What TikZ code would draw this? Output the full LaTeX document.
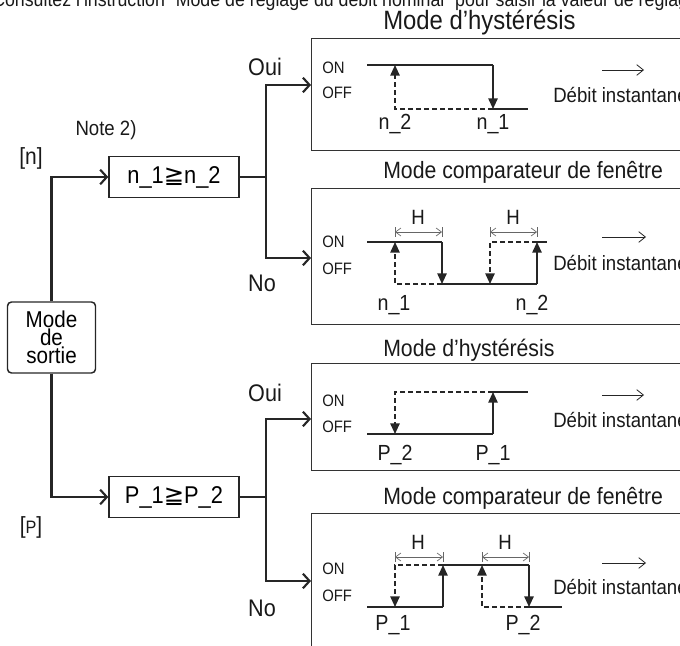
\documentclass[tikz,border=0pt]{standalone}
\usepackage{fontspec}
\setmainfont[FakeStretch=0.9]{Liberation Sans}
\newfontfamily\symfont{DejaVu Sans}
\usetikzlibrary{arrows.meta}
\newcommand{\fs}[1]{\fontsize{#1pt}{#1pt}\selectfont}
\tikzset{
  panel/.style={draw=black!80, line width=1.1pt},
  conn/.style={draw=black!85, line width=1.6pt},
  flow/.style={conn, -{Straight Barb[length=5pt,width=11pt]}},
  wave/.style={draw=black!85, line width=1.3pt},
  dwave/.style={wave, dash pattern=on 3.5pt off 2.5pt},
  tri/.style={-{Triangle[length=8pt,width=7pt]}},
  dimarr/.style={draw=black!60, line width=0.5pt, {Straight Barb[length=4pt,width=6pt]}-{Straight Barb[length=4pt,width=6pt]}},
  dimtick/.style={draw=black!60, line width=0.5pt},
  rarr/.style={draw=black!85, line width=0.6pt, -{Straight Barb[length=5pt,width=8pt]}},
  lbl/.style={inner sep=0pt, text=black!90},
  ttl/.style={lbl, anchor=west, font=\fs{17.7}},
  onoff/.style={lbl, anchor=west, font=\fs{12.4}},
  val/.style={lbl, font=\fs{16.4}},
  deb/.style={lbl, anchor=west, font=\fs{15.5}},
  hh/.style={lbl, font=\fs{15.5}},
  yn/.style={lbl, font=\fs{18}},
  dbox/.style={draw=black!85, line width=1.1pt, minimum width=97.5pt, minimum height=30.75pt, inner sep=0pt, font=\fs{18.2}},
}
\begin{document}
\begin{tikzpicture}[x=0.75pt, y=-0.75pt]
\useasboundingbox (0,0) rectangle (680,645);
\clip (0,0) rectangle (680,645);

% top note (cut)
\node[lbl, anchor=base west, font=\fs{14.8}] (note) at (-8,7) {Consultez l'instruction "Mode de réglage du débit nominal" pour saisir la valeur de réglage};

% titles
\node[lbl, anchor=west, font=\fs{19.9}] (t1) at (383,22) {Mode d'hystérésis};
\node[ttl] (t2) at (383,172) {Mode comparateur de fenêtre};
\node[ttl] (t3) at (383,350) {Mode d'hystérésis};
\node[ttl] (t4) at (383,498) {Mode comparateur de fenêtre};

% panels
\node[panel, anchor=north west, minimum width=330pt, minimum height=84pt, inner sep=0pt] (p1) at (311,38) {};
\node[panel, anchor=north west, minimum width=330pt, minimum height=102pt, inner sep=0pt] (p2) at (311,188) {};
\node[panel, anchor=north west, minimum width=330pt, minimum height=80.25pt, inner sep=0pt] (p3) at (311,363) {};
\node[panel, anchor=north west, minimum width=330pt, minimum height=120pt, inner sep=0pt] (p4) at (311,513) {};

% left part
\node[draw=black!85, line width=1.1pt, rounded corners=3pt, minimum width=66pt, minimum height=53.25pt, inner sep=0pt, align=center, font=\fs{17.2}, execute at begin node={\setlength{\baselineskip}{12.4pt}}] (ms) at (51.5,337.5) {Mode\\de\\sortie};
\node[dbox] (nb) at (174,177) {n\_1{\symfont ≧}n\_2};
\node[dbox] (pb) at (174,497) {P\_1{\symfont ≧}P\_2};
\node[lbl, font=\fs{17.5}] (ln) at (31,158) {[n]};
\node[lbl, font=\fs{17.5}] (lp) at (31,527) {[{\fs{13.5}P}]};
\node[lbl, font=\fs{15.5}] (n2) at (106,130) {Note 2)};

\draw[flow] (ms.north) |- (nb.west);
\draw[flow] (ms.south) |- (pb.west);

\coordinate (jn) at (266,177);
\coordinate (an) at (266,85);
\coordinate (bn) at (266,258);
\coordinate (jp) at (266,497);
\coordinate (ap) at (266,419);
\coordinate (bp) at (266,581);
\draw[conn] (nb.east) -- (jn);
\draw[flow] (jn) -- (an) -- (p1.west |- an);
\draw[flow] (jn) -- (bn) -- (p2.west |- bn);
\draw[conn] (pb.east) -- (jp);
\draw[flow] (jp) -- (ap) -- (p3.west |- ap);
\draw[flow] (jp) -- (bp) -- (p4.west |- bp);

\node[yn] (oui1) at (265,67) {Oui};
\node[yn] (no1) at (262,283) {No};
\node[yn] (oui2) at (265,393) {Oui};
\node[yn] (no2) at (262,608) {No};

% ---- panel 1: hysteresis n
\node[onoff] (on1) at (322,68) {ON};
\node[onoff] (off1) at (322,93) {OFF};
\draw[wave] (367,65) -- (493,65);
\draw[wave,tri] (493,65) -- (493,109);
\draw[wave] (493,109) -- (528,109);
\draw[dwave,tri] (493,109) -- (395,109) -- (395,65);
\node[val] (v12) at (395,124) {n\_2};
\node[val] (v11) at (493,124) {n\_1};
\draw[rarr] (602,70) -- (644,70);
\node[deb] (d1) at (553,95) {Débit instantané};

% ---- panel 2: window n
\node[onoff] (on2) at (322,242) {ON};
\node[onoff] (off2) at (322,269) {OFF};
\draw[wave] (367,242) -- (442,242);
\draw[wave,tri] (442,242) -- (442,284);
\draw[wave] (442,284) -- (537,284);
\draw[wave,tri] (537,284) -- (537,242);
\draw[wave] (537,242) -- (547,242);
\draw[dwave,tri] (442,284) -- (395,284) -- (395,242);
\draw[dwave,tri] (537,242) -- (490,242) -- (490,284);
\draw[dimarr] (395,232) -- (442,232);
\draw[dimtick] (395,227) -- (395,237) (442,227) -- (442,237);
\draw[dimarr] (490,232) -- (537,232);
\draw[dimtick] (490,227) -- (490,237) (537,227) -- (537,237);
\node[hh] (h21) at (418,217) {H};
\node[hh] (h22) at (513,217) {H};
\node[val] (v21) at (394,305) {n\_1};
\node[val] (v22) at (532,305) {n\_2};
\draw[rarr] (602,237) -- (646,237);
\node[deb] (d2) at (553,263) {Débit instantané};

% ---- panel 3: hysteresis P
\node[onoff] (on3) at (322,401) {ON};
\node[onoff] (off3) at (322,427) {OFF};
\draw[wave] (367,434) -- (493,434);
\draw[wave,tri] (493,434) -- (493,392);
\draw[wave] (493,392) -- (528,392);
\draw[dwave,tri] (493,392) -- (395,392) -- (395,434);
\node[val] (v32) at (395,455) {P\_2};
\node[val] (v31) at (493,455) {P\_1};
\draw[rarr] (602,395) -- (644,395);
\node[deb] (d3) at (553,420) {Débit instantané};

% ---- panel 4: window P
\node[onoff] (on4) at (322,569) {ON};
\node[onoff] (off4) at (322,596) {OFF};
\draw[wave] (367,607) -- (443,607);
\draw[wave,tri] (443,607) -- (443,565);
\draw[wave] (443,565) -- (529,565);
\draw[wave,tri] (529,565) -- (529,607);
\draw[wave] (529,607) -- (562,607);
\draw[dwave,tri] (443,565) -- (395,565) -- (395,607);
\draw[dwave,tri] (529,607) -- (482,607) -- (482,565);
\draw[dimarr] (395,557) -- (443,557);
\draw[dimtick] (395,552) -- (395,562) (443,552) -- (443,562);
\draw[dimarr] (482,557) -- (529,557);
\draw[dimtick] (482,552) -- (482,562) (529,552) -- (529,562);
\node[hh] (h41) at (418,542) {H};
\node[hh] (h42) at (505,542) {H};
\node[val] (v41) at (393,625) {P\_1};
\node[val] (v42) at (523,625) {P\_2};
\draw[rarr] (602,563) -- (646,563);
\node[deb] (d4) at (553,587) {Débit instantané};
\end{tikzpicture}
\end{document}
